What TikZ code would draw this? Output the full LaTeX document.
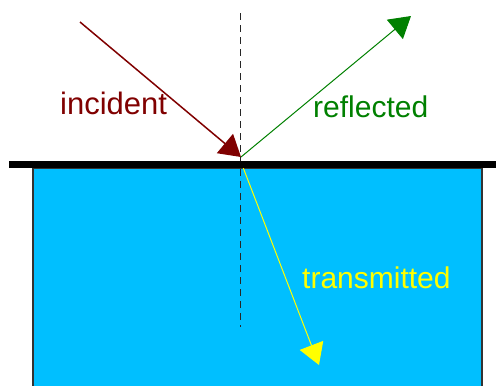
\documentclass[tikz,border=0pt]{standalone}
\usepackage{fontspec}
\setmainfont{Liberation Sans}
\usetikzlibrary{positioning, arrows.meta}
\definecolor{waterBlue}{HTML}{00BFFF}
\definecolor{incRed}{HTML}{800000}
\definecolor{refGreen}{HTML}{008000}
\definecolor{transYellow}{HTML}{FFFF00}

\begin{document}
\begin{tikzpicture}[x=1pt, y=-1pt,
    ray/.style={-{Triangle[length=21pt, width=25pt]}, line width=1pt},
    normal/.style={dashed, dash pattern=on 7pt off 5pt, line width=0.8pt, black!85},
    wall/.style={draw=black!80, line width=1.3pt, fill=waterBlue},
    label/.style={anchor=base west, inner sep=0pt, font=\fontsize{30}{36}\selectfont},
]
\useasboundingbox (0,0) rectangle (496,386);
% medium below the surface
\path[wall] (33,386) -- (33,168) -- (482,168) -- (482,386);
\coordinate (hit) at (241,157);
\coordinate (src) at (80,22);
\coordinate (refl) at (411,16);
\coordinate (trans) at (319,365);
\coordinate (ntop) at (240,13);
\coordinate (nbot) at (240,327);
\draw[normal] (ntop) -- (nbot);
\draw[ray, transYellow] (241,162) -- (trans);
% surface
\fill[black] (9,160.5) rectangle (496,167.5);
\draw[ray, incRed, line width=1.5pt] (src) -- (hit);
\draw[ray, refGreen] (hit) -- (refl);
\node[label, text=incRed, font=\fontsize{31}{36}\selectfont] (inclabel) at (60,114) {incident};
\node[label, text=refGreen] (reflabel) at (313,117) {reflected};
\node[label, text=transYellow] (translabel) at (302,288) {transmitted};
\end{tikzpicture}
\end{document}
